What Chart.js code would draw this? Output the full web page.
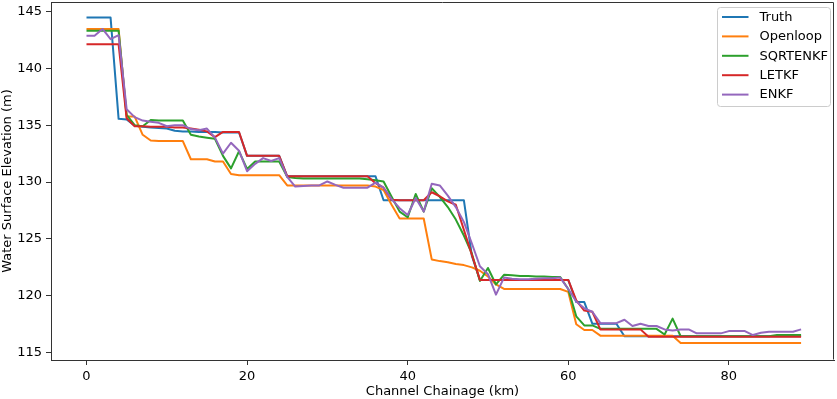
<!DOCTYPE html>
<html>
<head>
<meta charset="utf-8">
<title>Water Surface Elevation</title>
<script src="https://cdn.jsdelivr.net/npm/chart.js@4/dist/chart.umd.min.js"></script>
<style>
  html, body { margin: 0; padding: 0; background: #fff; }
  canvas { display: block; }
</style>
</head>
<body>
<canvas id="wse" width="837" height="399"></canvas>
<script>
// chainage along the channel, km
const chainage = [
  0, 1, 2, 3, 4, 5, 6, 7, 8, 9,
  10, 11, 12, 13, 14, 15, 16, 17, 18, 19,
  20, 21, 22, 23, 24, 25, 26, 27, 28, 29,
  30, 31, 32, 33, 34, 35, 36, 37, 38, 39,
  40, 41, 42, 43, 44, 45, 46, 47, 48, 49,
  50, 51, 52, 53, 54, 55, 56, 57, 58, 59,
  60, 61, 62, 63, 64, 65, 66, 67, 68, 69,
  70, 71, 72, 73, 74, 75, 76, 77, 78, 79,
  80, 81, 82, 83, 84, 85, 86, 87, 88, 89
];

const truth = [
  144.45, 144.45, 144.45, 144.45, 135.55, 135.5, 134.95, 134.85, 134.8, 134.75,
  134.7, 134.5, 134.45, 134.45, 134.4, 134.4, 134.4, 134.35, 134.35, 134.35,
  132.3, 132.3, 132.3, 132.3, 132.3, 130.5, 130.5, 130.5, 130.5, 130.5,
  130.5, 130.5, 130.5, 130.5, 130.5, 130.5, 130.5, 128.4, 128.4, 128.4,
  128.4, 128.4, 128.4, 128.4, 128.4, 128.4, 128.4, 128.4, 123.5, 121.4,
  121.4, 121.4, 121.4, 121.4, 121.4, 121.4, 121.4, 121.4, 121.4, 121.4,
  121.4, 119.45, 119.45, 117.55, 117.55, 117.55, 117.55, 116.45, 116.45, 116.45,
  116.45, 116.45, 116.45, 116.45, 116.45, 116.45, 116.45, 116.45, 116.45, 116.45,
  116.45, 116.45, 116.45, 116.45, 116.45, 116.45, 116.45, 116.45, 116.45, 116.45
];

const openloop = [
  143.45, 143.45, 143.45, 143.45, 143.45, 135.75, 135.75, 134.15, 133.65, 133.6,
  133.6, 133.6, 133.6, 132.0, 132.0, 132.0, 131.8, 131.8, 130.7, 130.6,
  130.6, 130.6, 130.6, 130.6, 130.6, 129.7, 129.7, 129.7, 129.7, 129.7,
  129.7, 129.7, 129.7, 129.7, 129.7, 129.7, 129.6, 129.3, 128.0, 126.8,
  126.8, 126.8, 126.8, 123.2, 123.05, 122.95, 122.8, 122.7, 122.5, 122.2,
  121.7, 121.0, 120.6, 120.6, 120.6, 120.6, 120.6, 120.6, 120.6, 120.6,
  120.35, 117.5, 117.0, 117.0, 116.5, 116.5, 116.5, 116.5, 116.5, 116.5,
  116.5, 116.5, 116.5, 116.5, 115.85, 115.85, 115.85, 115.85, 115.85, 115.85,
  115.85, 115.85, 115.85, 115.85, 115.85, 115.85, 115.85, 115.85, 115.85, 115.85
];

const sqrtenkf = [
  143.3, 143.3, 143.3, 143.3, 143.3, 135.9, 135.0, 134.9, 135.45, 135.4,
  135.4, 135.4, 135.4, 134.15, 134.0, 133.9, 133.8, 132.3, 131.2, 132.7,
  131.15, 131.8, 131.8, 131.8, 131.8, 130.45, 130.35, 130.3, 130.3, 130.3,
  130.3, 130.3, 130.3, 130.3, 130.3, 130.25, 130.15, 130.05, 128.7, 127.4,
  126.9, 128.95, 127.4, 129.45, 128.7, 127.8, 126.7, 125.3, 123.7, 121.3,
  122.45, 121.0, 121.85, 121.8, 121.75, 121.75, 121.7, 121.7, 121.65, 121.65,
  120.6, 118.2, 117.4, 117.4, 117.1, 117.1, 117.1, 117.1, 117.1, 117.1,
  117.1, 117.1, 116.6, 118.0, 116.45, 116.45, 116.45, 116.45, 116.45, 116.45,
  116.45, 116.45, 116.45, 116.45, 116.45, 116.45, 116.55, 116.55, 116.55, 116.55
];

const letkf = [
  142.1, 142.1, 142.1, 142.1, 142.1, 135.6, 134.9, 134.9, 134.85, 134.85,
  134.85, 134.8, 134.8, 134.7, 134.6, 134.45, 133.95, 134.4, 134.4, 134.4,
  132.3, 132.3, 132.3, 132.3, 132.3, 130.5, 130.5, 130.5, 130.5, 130.5,
  130.5, 130.5, 130.5, 130.5, 130.5, 130.5, 129.9, 129.5, 128.45, 128.4,
  128.4, 128.4, 128.4, 129.1, 128.75, 128.3, 128.0, 125.8, 123.6, 121.4,
  121.4, 121.4, 121.4, 121.4, 121.4, 121.4, 121.4, 121.4, 121.4, 121.4,
  121.4, 119.6, 118.7, 118.6, 117.05, 117.05, 117.05, 117.05, 117.05, 117.05,
  116.4, 116.4, 116.4, 116.4, 116.4, 116.4, 116.4, 116.4, 116.4, 116.4,
  116.4, 116.4, 116.4, 116.4, 116.4, 116.4, 116.4, 116.4, 116.4, 116.4
];

const enkf = [
  142.85, 142.85, 143.45, 142.55, 142.9, 136.4, 135.7, 135.4, 135.3, 135.2,
  134.9, 135.0, 135.0, 134.65, 134.55, 134.7, 133.9, 132.5, 133.45, 132.75,
  130.95, 131.6, 132.1, 131.85, 132.1, 130.45, 129.6, 129.65, 129.7, 129.7,
  130.05, 129.75, 129.5, 129.5, 129.5, 129.5, 129.95, 129.5, 128.5, 127.7,
  127.1, 128.6, 127.4, 129.85, 129.7, 128.8, 127.8, 126.5, 124.6, 122.6,
  121.9, 120.1, 121.6, 121.5, 121.45, 121.45, 121.5, 121.55, 121.55, 121.6,
  120.6, 119.5, 118.9, 118.6, 117.6, 117.6, 117.6, 117.9, 117.35, 117.55,
  117.35, 117.35, 117.05, 116.95, 117.05, 117.05, 116.7, 116.7, 116.7, 116.7,
  116.9, 116.9, 116.9, 116.55, 116.75, 116.85, 116.85, 116.85, 116.85, 117.05
];

const seriesNames = ['Truth', 'Openloop', 'SQRTENKF', 'LETKF', 'ENKF'];
const seriesColors = ['#1f77b4', '#ff7f0e', '#2ca02c', '#d62728', '#9467bd'];
const xTicks = [0, 20, 40, 60, 80];
const yTicks = [115, 120, 125, 130, 135, 140, 145];

const FONT = 'DejaVu Sans';
const AXIS = '#333';

function toPoints(values) {
  return chainage.map((x, i) => ({ x: x, y: values[i] }));
}

const allSeries = [truth, openloop, sqrtenkf, letkf, enkf];
const datasets = allSeries.map((vals, i) => ({
  label: seriesNames[i],
  data: toPoints(vals),
  borderColor: seriesColors[i],
  backgroundColor: seriesColors[i],
  borderWidth: 2,
  pointRadius: 0,
  tension: 0,
  fill: false,
  borderJoinStyle: 'round',
  order: allSeries.length - 1 - i, // later series drawn on top, like matplotlib
}));

// white background + top/right spines
const frame = {
  id: 'frame',
  beforeDraw(chart) {
    const c = chart.ctx;
    c.save();
    c.fillStyle = '#fff';
    c.fillRect(0, 0, chart.width, chart.height);
    c.restore();
  },
  afterDraw(chart) {
    const c = chart.ctx;
    const a = chart.chartArea;
    c.save();
    c.strokeStyle = AXIS;
    c.lineWidth = 1;
    c.beginPath();
    c.moveTo(Math.round(a.left) + 0.5, Math.round(a.top) + 0.5);
    c.lineTo(Math.round(a.right) - 0.5, Math.round(a.top) + 0.5);
    c.lineTo(Math.round(a.right) - 0.5, Math.round(a.bottom) - 0.5);
    c.stroke();
    c.restore();
  }
};

// matplotlib-style legend box in the upper right corner of the axes
const innerLegend = {
  id: 'innerLegend',
  afterDraw(chart) {
    const c = chart.ctx;
    const a = chart.chartArea;
    const right = a.right - 3.5, top = a.top + 5.5;
    const w = 113, h = 99;
    const left = right - w;
    c.save();
    c.beginPath();
    c.roundRect(left, top, w, h, 3);
    c.fillStyle = 'rgba(255,255,255,0.8)';
    c.fill();
    c.strokeStyle = '#cccccc';
    c.lineWidth = 1;
    c.stroke();
    c.font = '13px "' + FONT + '"';
    c.textBaseline = 'middle';
    c.textAlign = 'left';
    chart.data.datasets.forEach((ds, i) => {
      const y = top + 9.5 + i * 19.4;
      c.strokeStyle = ds.borderColor;
      c.lineWidth = 2;
      c.beginPath();
      c.moveTo(left + 4.5, y);
      c.lineTo(left + 31, y);
      c.stroke();
      c.fillStyle = '#000';
      c.fillText(ds.label, left + 42, y + 0.5);
    });
    c.restore();
  }
};

new Chart(document.getElementById('wse').getContext('2d'), {
  type: 'line',
  data: { datasets: datasets },
  plugins: [frame, innerLegend],
  options: {
    responsive: false,
    animation: false,
    devicePixelRatio: 1,
    layout: { padding: { left: 0, top: 2, right: 3, bottom: 0 } },
    plugins: { legend: { display: false }, tooltip: { enabled: false } },
    scales: {
      x: {
        type: 'linear',
        min: -4.42, max: 93.1,
        afterBuildTicks: s => { s.ticks = xTicks.map(v => ({ value: v })); },
        afterFit: s => { s.height = 39; s.paddingLeft = 0; s.paddingRight = 0; },
        grid: { drawOnChartArea: false, drawTicks: true, tickLength: 5, color: AXIS },
        border: { display: true, color: AXIS, width: 1 },
        ticks: { color: '#000', padding: 4, maxRotation: 0, font: { family: FONT, size: 13 } },
        title: { display: true, text: 'Channel Chainage (km)', color: '#000',
                 padding: { top: 0, bottom: 0 }, font: { family: FONT, size: 13 } },
      },
      y: {
        type: 'linear',
        min: 114.36, max: 145.82,
        afterBuildTicks: s => { s.ticks = yTicks.map(v => ({ value: v })); },
        afterFit: s => { s.width = 51; s.paddingTop = 0; s.paddingBottom = 0; },
        grid: { drawOnChartArea: false, drawTicks: true, tickLength: 5, color: AXIS },
        border: { display: true, color: AXIS, width: 1 },
        ticks: { color: '#000', padding: 4, font: { family: FONT, size: 13 } },
        title: { display: true, text: 'Water Surface Elevation (m)', color: '#000',
                 padding: { top: 0, bottom: 0 }, font: { family: FONT, size: 13 } },
      }
    }
  }
});
</script>
</body>
</html>
